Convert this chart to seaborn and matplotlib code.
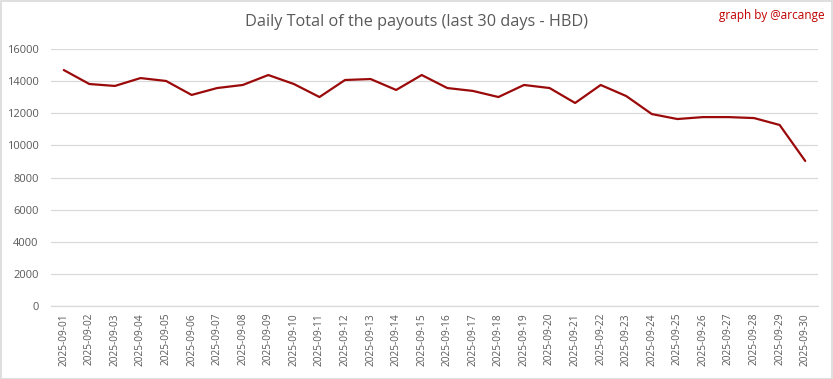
import matplotlib
matplotlib.use("Agg")
import matplotlib.pyplot as plt
import seaborn as sns
import pandas as pd
from matplotlib.patches import Rectangle

dates = [f"2025-09-{d:02d}" for d in range(1, 31)]
payouts = [14690, 13820, 13700, 14190, 14010, 13140, 13570, 13760, 14380, 13820,
           13010, 14070, 14130, 13450, 14380, 13570, 13390, 13010, 13760, 13570,
           12640, 13760, 13070, 11950, 11640, 11760, 11760, 11700, 11270, 9030]
yticks = [0, 2000, 4000, 6000, 8000, 10000, 12000, 14000, 16000]

df = pd.DataFrame({"date": dates, "idx": range(len(dates)), "hbd": payouts})

sns.set_theme(style="white")
plt.rcParams['font.family'] = ['Open Sans', 'DejaVu Sans']

fig = plt.figure(figsize=(8.33, 3.79), dpi=100)
ax = fig.add_axes([51/833, 1 - 306/379, (818-51)/833, (306-49)/379])

sns.lineplot(data=df, x="idx", y="hbd", ax=ax, color="#9b0a0a", linewidth=1.6)

ax.set_xlim(-0.5, len(dates) - 0.5)
ax.set_ylim(0, 16000)
ax.set_yticks(yticks)
ax.set_yticklabels([str(v) for v in yticks], fontsize=8, color="#595959")
ax.set_xticks(range(len(dates)))
ax.set_xticklabels(dates, rotation=90, fontsize=7.3, color="#595959")
ax.tick_params(axis="y", length=0, pad=9)
ax.tick_params(axis="x", length=0, pad=5)
ax.grid(axis="y", color="#d9d9d9", linewidth=0.9)
ax.set_axisbelow(True)
for s in ["top", "right", "left"]:
    ax.spines[s].set_visible(False)
ax.spines["bottom"].set_color("#d9d9d9")
ax.spines["bottom"].set_linewidth(0.9)
ax.set_xlabel("")
ax.set_ylabel("")

fig.text(0.5, 1 - 22/379, "Daily Total of the payouts (last 30 days - HBD)",
         ha="center", va="center", fontsize=11.7, color="#595959")
fig.text(1 - 8/833, 1 - 15/379, "graph by @arcange", ha="right", va="center",
         fontsize=8.5, color="#c00000")

fig.patches.append(Rectangle((0.5/833, 0.5/379), 1 - 1.5/833, 1 - 1.5/379,
                             transform=fig.transFigure, fill=False,
                             edgecolor="#d9d9d9", linewidth=1.2))

fig.savefig("out.png", dpi=100)
